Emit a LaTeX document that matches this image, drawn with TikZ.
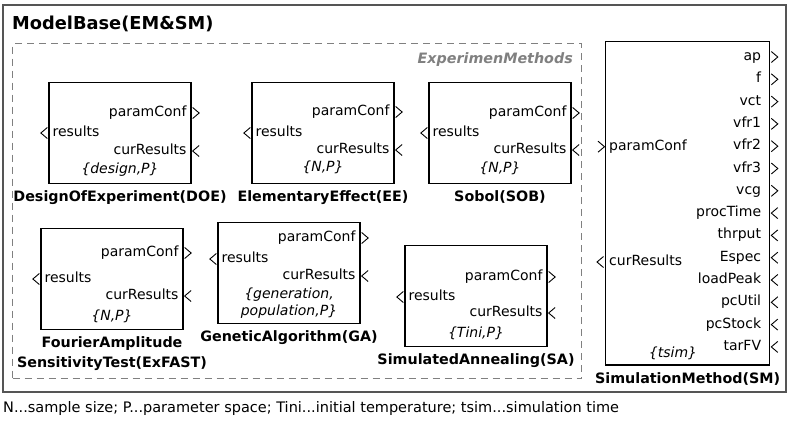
\documentclass[tikz,border=0pt]{standalone}
\usepackage{fontspec}
\setmainfont{DejaVu Sans}
\usetikzlibrary{positioning}
\definecolor{frm}{HTML}{555555}
\definecolor{dsh}{HTML}{808080}

\begin{document}
\begin{tikzpicture}[x=1pt,y=-1pt,
  mbox/.style={draw,line width=1.3pt,minimum width=142pt,minimum height=101pt,inner sep=0pt},
  lbl/.style={inner sep=0pt,font=\fontsize{14}{17}\selectfont,text height=10pt,text depth=3pt},
  prm/.style={inner sep=0pt,align=center,font=\fontsize{14}{17}\selectfont\itshape},
  mname/.style={inner sep=0pt,align=center,font=\fontsize{14.3}{20}\selectfont\bfseries},
  portout/.pic={\draw[line width=.9pt] (0,-5.5) -- (6.5,0) -- (0,5.5);},
  portin/.pic={\draw[line width=.9pt] (6.5,-5.5) -- (0,0) -- (6.5,5.5);}]
\useasboundingbox (0,0) rectangle (788,424);
% model base frame
\draw[frm,line width=1.2pt] (3,5) rectangle (786,392);
\draw[frm,line width=2.2pt] (3,392) -- (786,392);
\node[anchor=west,inner sep=0pt,font=\fontsize{17.8}{21}\selectfont\bfseries] (mb) at (12,23.5) {ModelBase(EM\&SM)};
% experiment methods
\node[draw=dsh,line width=1pt,dash pattern=on 7pt off 5pt,minimum width=569pt,minimum height=335pt,anchor=north west] (em) at (12,43) {};
\node[anchor=east,inner sep=0pt,text=dsh,font=\fontsize{14.3}{17}\selectfont\bfseries\itshape] (emt) at (573,60) {ExperimenMethods};
\foreach \nm/\cx/\ty/\yp/\yr/\yc/\yk/\ptxt/\ntxt in {
  doe/120/82/113/133/151/170/{\{design,P\}}/{DesignOfExperiment(DOE)},
  ee/323/82/112/133/150/167/{\{N,P\}}/{ElementaryEffect(EE)},
  sob/500/82/113/133/150/168/{\{N,P\}}/{Sobol(SOB)},
  exf/112/228/253/279/296/316/{\{N,P\}}/{FourierAmplitude\\SensitivityTest(ExFAST)},
  ga/289/222/238/259/276/303/{\{generation,\\population,P\}}/{GeneticAlgorithm(GA)},
  sa/476/245/277/297/313/333/{\{Tini,P\}}/{SimulatedAnnealing(SA)}}{
  \node[mbox,anchor=north] (\nm) at (\cx,\ty) {};
  \node[lbl,anchor=east] (\nm-pc) at ([xshift=-5pt]\nm.east |- 0,\yp) {paramConf};
  \node[lbl,anchor=west] (\nm-res) at ([xshift=4pt]\nm.west |- 0,\yr) {results};
  \node[lbl,anchor=east] (\nm-cr) at ([xshift=-5pt]\nm.east |- 0,\yc) {curResults};
  \node[prm] (\nm-prm) at (\cx,\yk) {\ptxt};
  \node[mname,below=6pt of \nm.south,anchor=north] (\nm-name) {\ntxt};
  \pic at ([xshift=1pt]\nm.east |- 0,\yp) {portout};
  \pic at ([xshift=1pt]\nm.east |- 0,\yc) {portin};
  \pic at ([xshift=-7.5pt]\nm.west |- 0,\yr) {portin};
}
% simulation method
\node[draw,line width=1.3pt,minimum width=164pt,minimum height=323.5pt,inner sep=0pt,anchor=north west] (sm) at (605,40.7) {};
\node[lbl,anchor=west] (sm-pc) at ([xshift=4pt]sm.west |- 0,146.7) {paramConf};
\node[lbl,anchor=west] (sm-cr) at ([xshift=4pt]sm.west |- 0,262) {curResults};
\pic at ([xshift=-7pt]sm.west |- 0,146.7) {portout};
\pic at ([xshift=-8pt]sm.west |- 0,262) {portin};
\foreach \s [count=\i from 0,evaluate=\i as \yy using {57+22.3*\i}] in {ap,f,vct,vfr1,vfr2,vfr3,vcg}{
  \node[lbl,anchor=east] (sm-\s) at ([xshift=-9pt]sm.east |- 0,\yy) {\s};
  \pic at ([xshift=1pt]sm.east |- 0,\yy) {portout};
}
\foreach \s [count=\i from 7,evaluate=\i as \yy using {57+22.3*\i}] in {procTime,thrput,Espec,loadPeak,pcUtil,pcStock,tarFV}{
  \node[lbl,anchor=east] (sm-\s) at ([xshift=-9pt]sm.east |- 0,\yy) {\s};
  \pic at ([xshift=1pt]sm.east |- 0,\yy) {portin};
}
\node[prm] (sm-prm) at (673,353) {\{tsim\}};
\node[mname,below=7pt of sm.south,anchor=north] (sm-name) {SimulationMethod(SM)};
% legend
\node[anchor=west,inner sep=0pt,font=\fontsize{14.5}{17}\selectfont] (note) at (3,408) {N...sample size; P...parameter space; Tini...initial temperature; tsim...simulation time};
\end{tikzpicture}
\end{document}
